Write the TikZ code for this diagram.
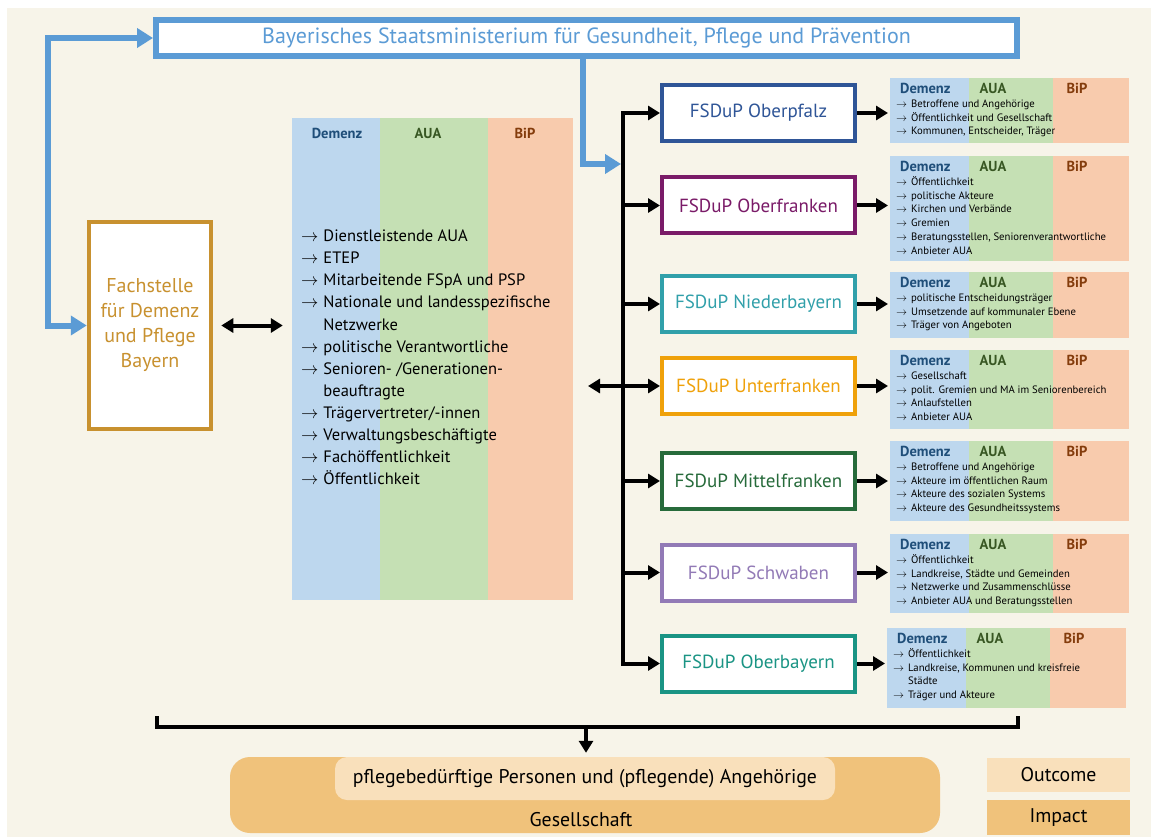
\documentclass[tikz,border=0pt]{standalone}
\usepackage{fontspec}
\setmainfont{PT Sans}
\usetikzlibrary{arrows.meta}

\definecolor{creme}{HTML}{F7F4E9}
\definecolor{ministerium}{HTML}{5B9BD5}
\definecolor{fachgold}{HTML}{C8912F}
\definecolor{demenzgrund}{HTML}{BDD7EE}
\definecolor{auagrund}{HTML}{C5E0B4}
\definecolor{bipgrund}{HTML}{F8CBAD}
\definecolor{demenzkopf}{HTML}{1F4E79}
\definecolor{auakopf}{HTML}{385723}
\definecolor{bipkopf}{HTML}{843C0C}
\definecolor{oberpfalz}{HTML}{2F5597}
\definecolor{oberfranken}{HTML}{7A1B68}
\definecolor{niederbayern}{HTML}{31A0AA}
\definecolor{unterfranken}{HTML}{EFA10A}
\definecolor{mittelfranken}{HTML}{276B3B}
\definecolor{schwaben}{HTML}{927AB6}
\definecolor{oberbayern}{HTML}{1A9484}
\definecolor{impact}{HTML}{F0C27B}
\definecolor{outcome}{HTML}{F9E0BB}

\newcommand\pf[0]{$\rightarrow$}
\newcommand\zielfeld[5]{%
  \fill[demenzgrund] (#2,#3) rectangle (#2+79,#4);
  \fill[auagrund] (#2+79,#3) rectangle (#2+163,#4);
  \fill[bipgrund] (#2+163,#3) rectangle (#2+239,#4);
  \node[kopf,text=demenzkopf,anchor=west] (#1-d) at (#2+10,#3+10) {Demenz};
  \node[kopf,text=auakopf] (#1-a) at (#2+103,#3+10) {AUA};
  \node[kopf,text=bipkopf] (#1-b) at (#2+187,#3+10) {BiP};
  \node[liste] (#1-l) at (#2+6,#3+19.5)
    {\begin{tabular}{@{}l@{\hspace{4pt}}l@{}}#5\end{tabular}};
  \coordinate (#1) at (#2-2,{(#3+#4)/2});
}

\begin{document}
\begin{tikzpicture}[x=1pt,y=-1pt,
  fsdup/.style={draw,line width=4,fill=white,minimum width=193,minimum height=56,
    inner sep=0,font=\fontsize{19}{22}\selectfont},
  kopf/.style={inner sep=0,font=\fontsize{14.5}{16}\selectfont\bfseries},
  liste/.style={anchor=north west,inner sep=0,align=left,
    font=\fontsize{10.7}{13.8}\selectfont},
  pfeil/.style={line width=4,-{Triangle[width=14pt,length=12pt]}},
  dpfeil/.style={line width=4,{Triangle[width=14pt,length=12pt]}-{Triangle[width=14pt,length=12pt]}},
  blaupfeil/.style={ministerium,line width=6,{Triangle[width=19pt,length=16pt]}-{Triangle[width=19pt,length=16pt]}},
  feld/.style={inner sep=0,font=\fontsize{19.8}{22}\selectfont}]

\useasboundingbox (0,0) rectangle (1157,837);
\fill[white] (0,0) rectangle (1157,837);
\fill[creme] (7,8) rectangle (1151,837);

\node[draw=ministerium,line width=6,fill=white,minimum width=861,minimum height=36,
  inner sep=0,text=ministerium,font=\fontsize{22}{24}\selectfont] (titel) at (586.5,38)
  {Bayerisches Staatsministerium für Gesundheit, Pflege und Prävention};

\node[draw=fachgold,line width=4.5,fill=white,minimum width=122,minimum height=207,
  text=fachgold,align=center,font=\fontsize{20}{25}\selectfont] (fach) at (150,325.5)
  {Fachstelle\\für Demenz\\und Pflege\\Bayern};

\coordinate (links) at (48,0);
\draw[blaupfeil] (titel.west) -- (titel.west -| links) -- (fach.west -| links) -- (fach.west);

% mittleres Feld
\node[inner sep=0,minimum width=281,minimum height=482] (mitte) at (432.5,359) {};
\fill[demenzgrund] (292,118) rectangle (380,600);
\fill[auagrund] (380,118) rectangle (488,600);
\fill[bipgrund] (488,118) rectangle (573,600);
\node[kopf,text=demenzkopf] (mitte-d) at (337,133) {Demenz};
\node[kopf,text=auakopf] (mitte-a) at (428,133) {AUA};
\node[kopf,text=bipkopf] (mitte-b) at (525,133) {BiP};
\node[liste,font=\fontsize{16.5}{22.1}\selectfont] (mitte-l) at (301,226)
  {\begin{tabular}{@{}l@{\hspace{5pt}}l@{}}
   \pf & Dienstleistende AUA\\
   \pf & ETEP\\
   \pf & Mitarbeitende FSpA und PSP\\
   \pf & Nationale und landesspezifische\\
       & Netzwerke\\
   \pf & politische Verantwortliche\\
   \pf & Senioren- /Generationen-\\
       & beauftragte\\
   \pf & Trägervertreter/-innen\\
   \pf & Verwaltungsbeschäftigte\\
   \pf & Fachöffentlichkeit\\
   \pf & Öffentlichkeit
  \end{tabular}};

\draw[dpfeil,shorten <=8,shorten >=9] (fach.east) -- (fach.east -| mitte.west);

% Fachstellen in den Bezirken
\node[fsdup,draw=oberpfalz,text=oberpfalz] (opf) at (758.5,113) {FSDuP Oberpfalz};
\node[fsdup,draw=oberfranken,text=oberfranken] (ofr) at (758.5,205.5) {FSDuP Oberfranken};
\node[fsdup,draw=niederbayern,text=niederbayern] (ndb) at (758.5,304) {FSDuP Niederbayern};
\node[fsdup,draw=unterfranken,text=unterfranken] (ufr) at (758.5,386) {FSDuP Unterfranken};
\node[fsdup,draw=mittelfranken,text=mittelfranken] (mfr) at (758.5,481) {FSDuP Mittelfranken};
\node[fsdup,draw=schwaben,text=schwaben] (schw) at (758.5,572.5) {FSDuP Schwaben};
\node[fsdup,draw=oberbayern,text=oberbayern] (obb) at (758.5,663.5) {FSDuP Oberbayern};

\coordinate (bus) at (623,0);
\draw[line width=4,line cap=rect] (opf.west -| bus) -- (obb.west -| bus);
\draw[pfeil] (opf.west -| bus) -- (opf.west);
\draw[pfeil] (ofr.west -| bus) -- (ofr.west);
\draw[pfeil] (ndb.west -| bus) -- (ndb.west);
\draw[pfeil] (mfr.west -| bus) -- (mfr.west);
\draw[pfeil] (schw.west -| bus) -- (schw.west);
\draw[pfeil] (obb.west -| bus) -- (obb.west);
\coordinate (ufr-links) at (588,386);
\draw[dpfeil] (ufr-links) -- (ufr.west);

\coordinate (abzweig) at (583,164);
\draw[ministerium,line width=6,-{Triangle[width=19pt,length=16pt]},shorten >=2]
  (titel.south -| abzweig) -- (abzweig) -- (abzweig -| bus);

% Zielgruppen
\zielfeld{z1}{890}{78}{143}{\pf & Betroffene und Angehörige\\
  \pf & Öffentlichkeit und Gesellschaft\\ \pf & Kommunen, Entscheider, Träger}
\zielfeld{z2}{890}{156}{261}{\pf & Öffentlichkeit\\ \pf & politische Akteure\\
  \pf & Kirchen und Verbände\\ \pf & Gremien\\
  \pf & Beratungsstellen, Seniorenverantwortliche\\ \pf & Anbieter AUA}
\zielfeld{z3}{890}{272}{338}{\pf & politische Entscheidungsträger\\
  \pf & Umsetzende auf kommunaler Ebene\\ \pf & Träger von Angeboten}
\zielfeld{z4}{890}{350}{429}{\pf & Gesellschaft\\
  \pf & polit. Gremien und MA im Seniorenbereich\\ \pf & Anlaufstellen\\
  \pf & Anbieter AUA}
\zielfeld{z5}{890}{441}{521}{\pf & Betroffene und Angehörige\\
  \pf & Akteure im öffentlichen Raum\\ \pf & Akteure des sozialen Systems\\
  \pf & Akteure des Gesundheitssystems}
\zielfeld{z6}{890}{534}{613}{\pf & Öffentlichkeit\\
  \pf & Landkreise, Städte und Gemeinden\\ \pf & Netzwerke und Zusammenschlüsse\\
  \pf & Anbieter AUA und Beratungsstellen}
\zielfeld{z7}{887}{628}{708}{\pf & Öffentlichkeit\\
  \pf & Landkreise, Kommunen und kreisfreie\\ & Städte\\
  \pf & Träger und Akteure}

\draw[pfeil] (opf.east) -- (opf.east -| z1);
\draw[pfeil] (ofr.east) -- (ofr.east -| z2);
\draw[pfeil] (ndb.east) -- (ndb.east -| z3);
\draw[pfeil] (ufr.east) -- (ufr.east -| z4);
\draw[pfeil] (mfr.east) -- (mfr.east -| z5);
\draw[pfeil] (schw.east) -- (schw.east -| z6);
\draw[pfeil] (obb.east) -- (obb.east -| z7);

% Wirkung
\coordinate (klammer-l) at (157,716);
\coordinate (klammer-r) at (1018,716);
\coordinate (klammer-m) at (586,727);
\draw[line width=3.5] (klammer-l) |- (klammer-m) -| (klammer-r);
\node[fill=impact,rounded corners=20,minimum width=710,minimum height=76,inner sep=0]
  (gesell) at (585,795) {};
\node[fill=outcome,rounded corners=12,minimum width=500,minimum height=43,feld]
  (personen) at (585,778.5) {pflegebedürftige Personen und (pflegende) Angehörige};
\node[feld] (gesell-text) at (581,820) {Gesellschaft};
\draw[pfeil,shorten >=4] (klammer-m) -- (gesell.north -| klammer-m);

\node[fill=outcome,minimum width=143,minimum height=34,feld] (outcome) at (1058.5,775) {Outcome};
\node[fill=impact,minimum width=143,minimum height=35,feld] (impact) at (1058.5,817.5) {Impact};

\end{tikzpicture}
\end{document}
